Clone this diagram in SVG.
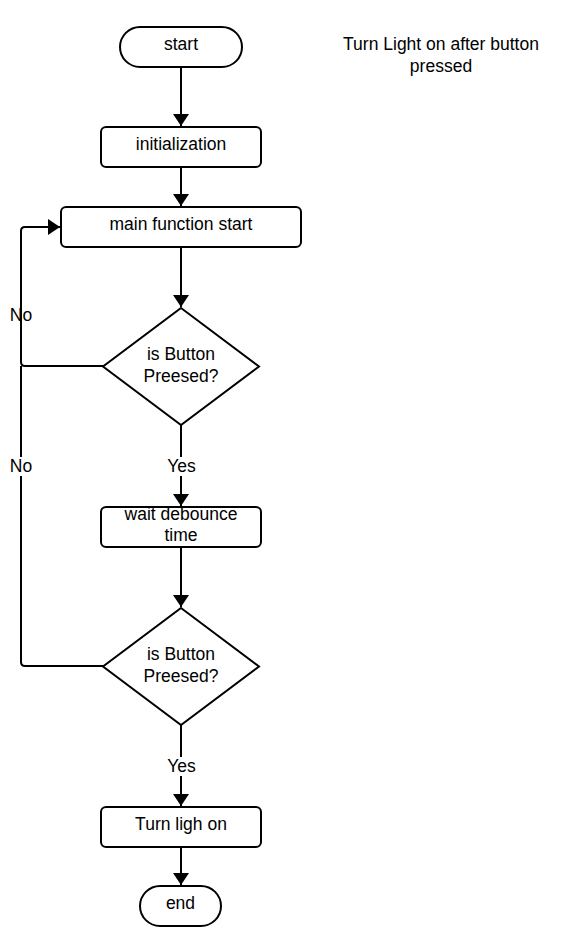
<svg xmlns="http://www.w3.org/2000/svg" width="569" height="945" viewBox="0 0 569 945">
<style>
.shape{fill:#fff;stroke:#000;stroke-width:2}
.edge{fill:none;stroke:#000;stroke-width:2}
text{font-family:"Liberation Sans",Arial,sans-serif;font-size:17.5px;fill:#000;text-anchor:middle}
</style>
<defs>
<marker id="arr" viewBox="0 0 12 16" refX="12" refY="8" markerWidth="12" markerHeight="16" markerUnits="userSpaceOnUse" orient="auto">
<path d="M0,0 L12,8 L0,16 Z" fill="#000"/>
</marker>
</defs>
<rect width="569" height="945" fill="#fff"/>
<g id="connectors">
<line class="edge" x1="181" y1="67" x2="181" y2="126" marker-end="url(#arr)"/>
<line class="edge" x1="181" y1="167" x2="181" y2="206" marker-end="url(#arr)"/>
<line class="edge" x1="181" y1="247" x2="181" y2="307" marker-end="url(#arr)"/>
<line class="edge" x1="181" y1="425" x2="181" y2="506" marker-end="url(#arr)"/>
<line class="edge" x1="181" y1="547" x2="181" y2="607" marker-end="url(#arr)"/>
<line class="edge" x1="181" y1="725" x2="181" y2="806" marker-end="url(#arr)"/>
<line class="edge" x1="181" y1="847" x2="181" y2="885" marker-end="url(#arr)"/>
<path class="edge" d="M103,366 H25 Q21,366 21,362 V231 Q21,227 25,227 H60" marker-end="url(#arr)"/>
<path class="edge" d="M103,666 H25 Q21,666 21,662 V366"/>
<rect x="166" y="457" width="31" height="19" fill="#fff"/>
<text x="181.5" y="471.5">Yes</text>
<rect x="166" y="757" width="31" height="19" fill="#fff"/>
<text x="181.5" y="771.5">Yes</text>
<text x="21" y="321">No</text>
<rect x="8" y="457" width="26" height="19" fill="#fff"/>
<text x="21" y="471.5">No</text>
</g>
<g id="start">
<rect class="shape" x="120" y="27" width="122" height="40" rx="20"/>
<text x="181" y="50">start</text>
</g>
<g id="init">
<rect class="shape" x="101" y="127" width="160" height="40" rx="5"/>
<text x="181" y="150">initialization</text>
</g>
<g id="main">
<rect class="shape" x="61" y="207" width="240" height="40" rx="5"/>
<text x="181" y="230">main function start</text>
</g>
<g id="decision1">
<polygon class="shape" points="181,308 259,366.5 181,425 103,366.5"/>
<text x="181" y="360">is Button</text>
<text x="181" y="382">Preesed?</text>
</g>
<g id="wait">
<rect x="101" y="507" width="160" height="40" rx="5" fill="#fff"/>
<text x="181" y="520">wait debounce</text>
<text x="181" y="541">time</text>
<rect class="shape" x="101" y="507" width="160" height="40" rx="5" style="fill:none"/>
</g>
<g id="decision2">
<polygon class="shape" points="181,608 259,666.5 181,725 103,666.5"/>
<text x="181" y="660">is Button</text>
<text x="181" y="682">Preesed?</text>
</g>
<g id="light">
<rect class="shape" x="101" y="807" width="160" height="40" rx="5"/>
<text x="181" y="830">Turn ligh on</text>
</g>
<g id="end">
<rect class="shape" x="140" y="886" width="81" height="40" rx="20"/>
<text x="180.5" y="909">end</text>
</g>
<g id="title">
<text x="441" y="50">Turn Light on after button</text>
<text x="441" y="72">pressed</text>
</g>
</svg>
